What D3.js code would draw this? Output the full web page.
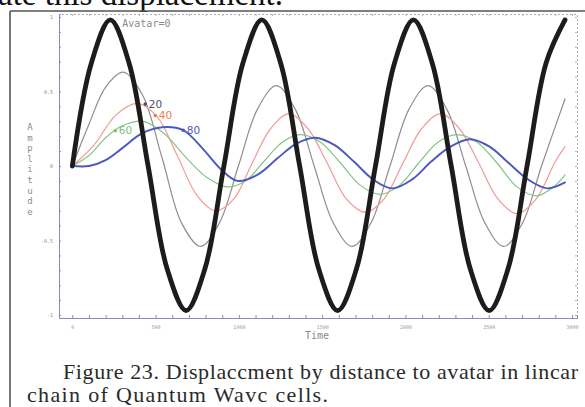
<!DOCTYPE html>
<html><head><meta charset="utf-8">
<script src="https://cdn.jsdelivr.net/npm/d3@7"></script>
<style>body{margin:0;background:#fff}svg{display:block}</style>
</head><body>
<svg id="c" width="585" height="407"></svg>
<script>
// ---- data ----
const seriesNames = ["Avatar=0", "20", "40", "60", "80"];
const avatarT = [0,114,228,341,455,569,683,796,910,1024,1138,1251,1365,1479,1593,1706,1820,1934,2048,2161,2275,2389,2503,2616,2730,2844,2958];
const avatarV = [0,0.69,0.98,0.69,0,-0.69,-0.97,-0.69,0,0.69,0.98,0.69,0,-0.69,-0.97,-0.69,0,0.69,0.98,0.69,0,-0.69,-0.97,-0.69,0,0.69,0.98];
const d20T = [0,100,200,306,420,540,655,770,884,997,1111,1225,1339,1452,1566,1680,1794,1907,2021,2135,2249,2362,2476,2590,2704,2817,2958];
const d20V = [0,0.28,0.53,0.63,0.48,0.05,-0.38,-0.54,-0.38,0,0.38,0.54,0.38,0,-0.38,-0.54,-0.38,0,0.38,0.54,0.38,0,-0.38,-0.54,-0.38,0,0.45];
const d40T = [0,130,260,390,510,630,750,860,970,1080,1190,1300,1415,1530,1645,1760,1872,1985,2097,2210,2325,2440,2555,2670,2785,2900,2958];
const d40V = [0,0.14,0.34,0.42,0.33,0.07,-0.2,-0.3,-0.22,0.02,0.25,0.35,0.25,0.02,-0.22,-0.31,-0.22,0.02,0.25,0.35,0.25,0.02,-0.22,-0.32,-0.22,0.03,0.13];
const d60T = [0,100,200,300,426,550,680,800,930,1040,1150,1260,1370,1490,1610,1730,1848,1964,2080,2195,2310,2430,2550,2670,2790,2900,2958];
const d60V = [0,0.07,0.19,0.27,0.30,0.22,0.06,-0.07,-0.14,-0.1,0.03,0.16,0.21,0.16,0.02,-0.13,-0.19,-0.13,0.02,0.16,0.21,0.16,0.02,-0.14,-0.2,-0.13,-0.06];
const d80T = [0,100,200,300,420,540,666,780,890,990,1110,1230,1345,1458,1575,1690,1805,1920,2040,2155,2270,2388,2505,2620,2735,2850,2958];
const d80V = [0,0,0.04,0.12,0.22,0.26,0.24,0.12,-0.02,-0.1,-0.06,0.05,0.15,0.19,0.14,0.03,-0.09,-0.15,-0.09,0.03,0.13,0.18,0.13,0.02,-0.09,-0.15,-0.11];
// label anchor times (where the marker sits on each curve)
const labelT = [300, 438, 498, 258, 666];
const xTicks = d3.range(0, 3001, 100);
const xTickLabels = ["0","500","1000","1500","2000","2500","3000"];
const yTicks = d3.range(-10, 11).map(d => d / 10);
const yTickLabels = {"-1":"-1","-0.5":"-0.5","0":"0","0.5":"0.5","1":"1"};

const svg = d3.select("#c");
svg.append("rect").attr("width",585).attr("height",407).attr("fill","#fff");

// text above the figure (cut off)
svg.append("text").attr("x",-2).attr("y",5).attr("font-family","Liberation Serif, Times New Roman, serif")
  .attr("font-size",33).attr("fill","#111").text("ate this displacement.");

// outer box
svg.append("line").attr("x1",10).attr("x2",585).attr("y1",11).attr("y2",11).attr("stroke","#555").attr("stroke-width",1.6);
svg.append("line").attr("x1",10).attr("x2",10).attr("y1",11).attr("y2",407).attr("stroke","#555").attr("stroke-width",1.6);

const x = d3.scaleLinear().domain([-80, 3030]).range([59, 577]);
const y = d3.scaleLinear().domain([-1.02, 1.02]).range([318, 14]);

const axisCol = "#8c8cb4";
// top & right dotted frame with ticks
const gTop = svg.append("g").attr("transform","translate(0,14)")
  .call(d3.axisTop(x).tickValues(xTicks).tickSize(-2).tickFormat(""));
gTop.select(".domain").attr("stroke","#b0b0c0").attr("stroke-dasharray","2,2");
gTop.selectAll(".tick line").attr("stroke","#b0b0c0");
const gRight = svg.append("g").attr("transform","translate(577,0)")
  .call(d3.axisRight(y).tickValues(yTicks).tickSize(-2).tickFormat(""));
gRight.select(".domain").attr("stroke","#b0b0c0").attr("stroke-dasharray","2,2");
gRight.selectAll(".tick line").attr("stroke","#b0b0c0");

// bottom axis
const gx = svg.append("g").attr("transform","translate(0,318)")
  .call(d3.axisBottom(x).tickValues(xTicks).tickSize(-3).tickPadding(7)
    .tickFormat(d => d % 500 === 0 ? xTickLabels[d/500] : ""));
gx.select(".domain").attr("stroke",axisCol);
gx.selectAll(".tick line").attr("stroke",axisCol);
gx.selectAll(".tick text").attr("font-size",5).attr("fill","#999").attr("font-family","DejaVu Sans Mono, monospace");

// left axis
const gy = svg.append("g").attr("transform","translate(59,0)")
  .call(d3.axisLeft(y).tickValues(yTicks).tickSize(-2).tickPadding(6)
    .tickFormat(d => yTickLabels[String(Math.round(d*10)/10)] || ""));
gy.select(".domain").attr("stroke",axisCol);
gy.selectAll(".tick line").attr("stroke",axisCol);
gy.selectAll(".tick text").attr("font-size",5).attr("fill","#888").attr("font-family","DejaVu Sans Mono, monospace");

// axis titles
const yt = svg.append("text").attr("font-family","DejaVu Sans Mono, monospace").attr("font-size",9).attr("fill","#8a8a9a").attr("text-anchor","middle");
"Amplitude".split("").forEach((ch,i) => yt.append("tspan").attr("x",30).attr("y",130 + i*10.6).text(ch));
svg.append("text").attr("x",305).attr("y",339).attr("font-family","DejaVu Sans Mono, monospace")
  .attr("font-size",10).attr("fill","#8a8a8a").text("Time");

// series
const series = [
  {name:seriesNames[1], T:d20T, V:d20V, color:"#8e8e8e", w:1.2, lab:"#4a4f66", lt:labelT[1]},
  {name:seriesNames[2], T:d40T, V:d40V, color:"#f29a94", w:1.2, lab:"#ee7a55", lt:labelT[2]},
  {name:seriesNames[3], T:d60T, V:d60V, color:"#86c486", w:1.2, lab:"#7cbf7c", lt:labelT[3]},
  {name:seriesNames[4], T:d80T, V:d80V, color:"#4a58c0", w:1.9, lab:"#4a58c0", lt:labelT[4]},
  {name:seriesNames[0], T:avatarT, V:avatarV, color:"#1c1c1c", w:4.8, lab:"#8a8a8a", lt:labelT[0]}
];
const line = d3.line().x(d => x(d[0])).y(d => y(d[1])).curve(d3.curveCatmullRom.alpha(0.5));
series.forEach(s => {
  const pts = s.T.map((t,i) => [t, s.V[i]]);
  svg.append("path").attr("d", line(pts)).attr("fill","none").attr("stroke", s.color)
    .attr("stroke-width", s.w).attr("stroke-linejoin","round").attr("stroke-linecap","round");
});

// labels
function valueAt(s, t) {
  const i = d3.bisectLeft(s.T, t);
  if (i <= 0) return s.V[0];
  const t0 = s.T[i-1], t1 = s.T[i];
  return s.V[i-1] + (s.V[i]-s.V[i-1]) * (t - t0) / (t1 - t0);
}
series.forEach((s, k) => {
  if (k === 4) {
    svg.append("text").attr("x", x(s.lt)).attr("y", y(0.93)).attr("font-family","DejaVu Sans Mono, monospace")
      .attr("font-size",10).attr("fill", s.lab).text(s.name);
    return;
  }
  const px = x(s.lt), py = y(valueAt(s, s.lt));
  svg.append("circle").attr("cx", px).attr("cy", py).attr("r", 1.8).attr("fill", s.lab);
  svg.append("text").attr("x", px + 3.5).attr("y", py + 3.5).attr("font-family","DejaVu Sans, sans-serif")
    .attr("font-size",10.5).attr("fill", s.lab).text(s.name);
});

// caption
const cap = svg.append("g").attr("font-family","Liberation Serif, Times New Roman, serif").attr("font-size",22).attr("fill","#2a2a2a");
cap.append("text").attr("x",63).attr("y",379).attr("textLength",515).attr("lengthAdjust","spacing")
  .text("Figure 23. Displaccment by distance to avatar in lincar");
cap.append("text").attr("x",27).attr("y",402).attr("textLength",301).attr("lengthAdjust","spacing")
  .text("chain of Quantum Wavc cells.");
</script>
</body></html>
